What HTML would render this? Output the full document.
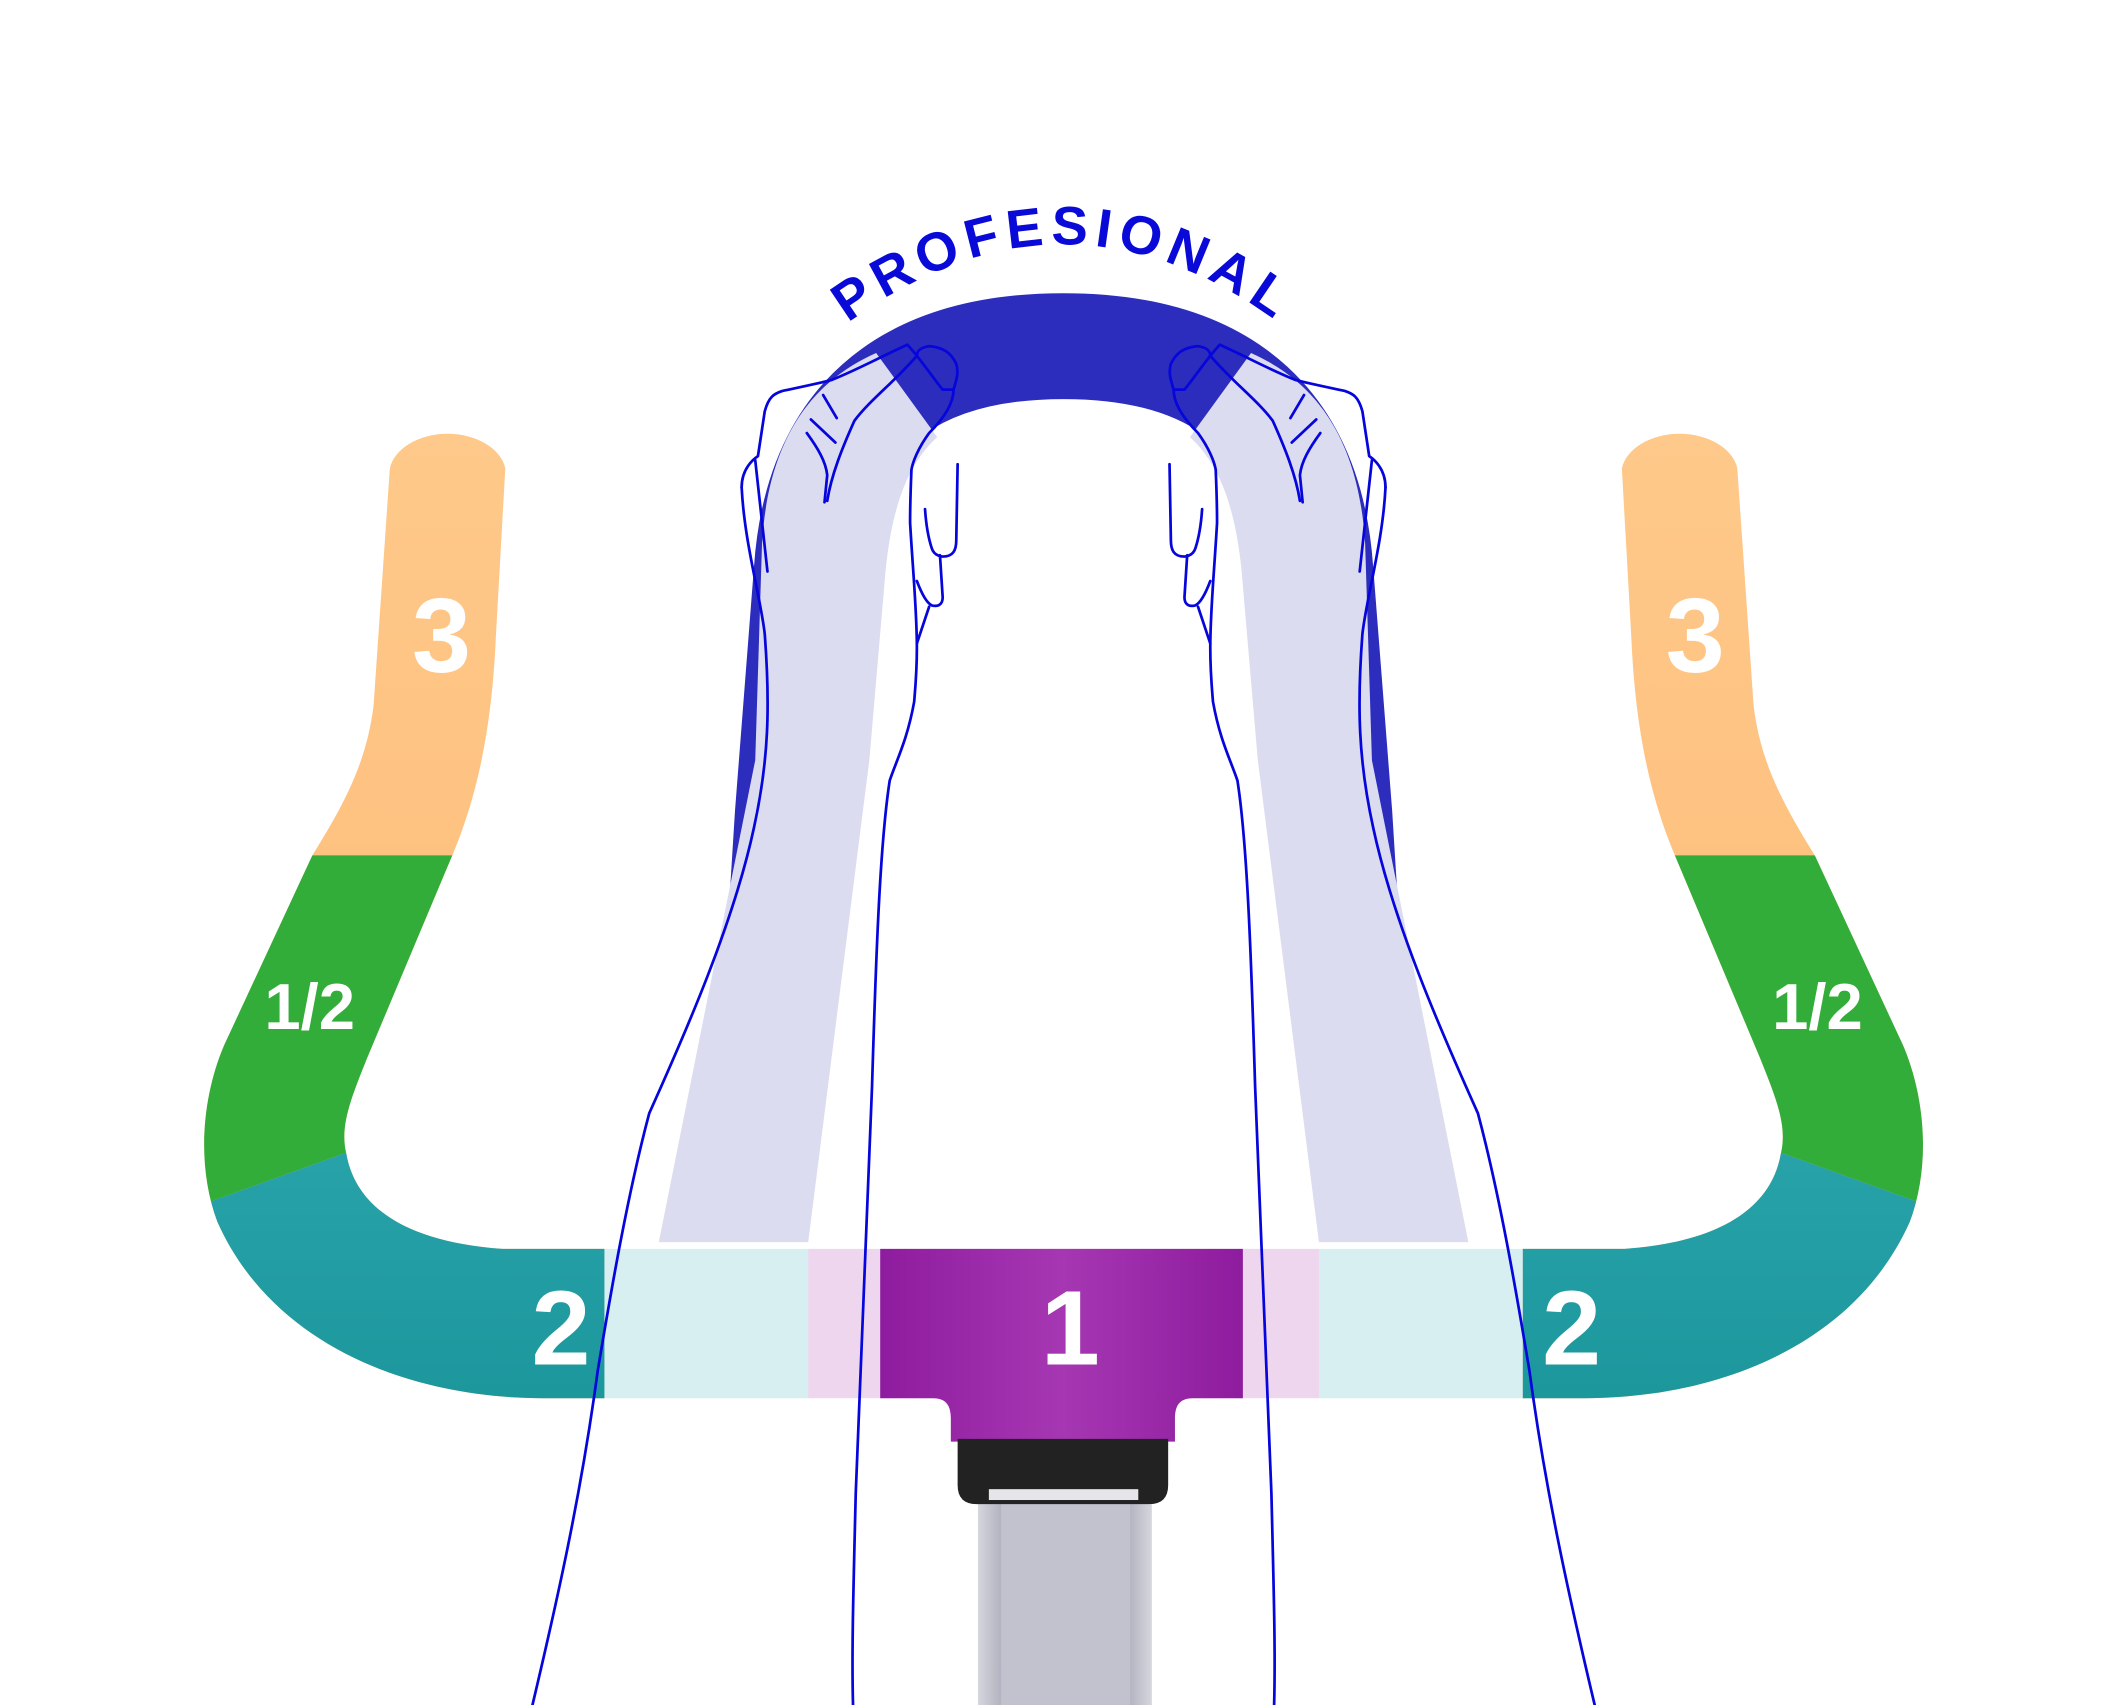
<!DOCTYPE html>
<html><head><meta charset="utf-8"><style>
html,body{margin:0;padding:0;background:#fff;}
svg{display:block;}
text{font-family:"Liberation Sans",sans-serif;font-weight:bold;}
</style></head><body>
<svg width="2119" height="1705" viewBox="0 0 1560 1256" preserveAspectRatio="none" xmlns="http://www.w3.org/2000/svg">
<defs>
<linearGradient id="tg" x1="0" y1="0" x2="0" y2="1">
<stop offset="0" stop-color="#48c3d0"/><stop offset="1" stop-color="#1c979c"/></linearGradient>
<linearGradient id="og" x1="0" y1="0" x2="0" y2="1">
<stop offset="0" stop-color="#fec98a"/><stop offset="1" stop-color="#fdb874"/></linearGradient>
<linearGradient id="pg" x1="0" y1="0" x2="1" y2="0">
<stop offset="0" stop-color="#8e1c9e"/><stop offset="0.5" stop-color="#a637b2"/><stop offset="1" stop-color="#8e1c9e"/></linearGradient>
<linearGradient id="sg" x1="0" y1="0" x2="1" y2="0">
<stop offset="0" stop-color="#d6d6de"/><stop offset="0.15" stop-color="#aeaebc"/><stop offset="0.5" stop-color="#c8c8d4"/><stop offset="0.85" stop-color="#aeaebc"/><stop offset="1" stop-color="#d6d6de"/></linearGradient>
<clipPath id="cg"><polygon points="100,630 500,630 500,848 258,848 100,905"/></clipPath>
<clipPath id="ct"><polygon points="100,905 258,848 500,848 500,1100 100,1100"/></clipPath>
</defs>

<!-- left handlebar -->
<g>
<path d="M287 345 A43 30 0 0 1 372 345 L365 470 C362 540 350 590 333 630 L270 780 C258 810 250 830 255 850 C262 890 300 915 370 920 L445 920 L445 1030 L400 1030 C300 1030 200 990 160 900 C145 860 148 810 165 770 L230 630 C255 590 270 560 275 520 Z" fill="url(#og)"/>
<path clip-path="url(#cg)" d="M287 345 A43 30 0 0 1 372 345 L365 470 C362 540 350 590 333 630 L270 780 C258 810 250 830 255 850 C262 890 300 915 370 920 L445 920 L445 1030 L400 1030 C300 1030 200 990 160 900 C145 860 148 810 165 770 L230 630 C255 590 270 560 275 520 Z" fill="#33ad3a"/>
<path clip-path="url(#ct)" d="M287 345 A43 30 0 0 1 372 345 L365 470 C362 540 350 590 333 630 L270 780 C258 810 250 830 255 850 C262 890 300 915 370 920 L445 920 L445 1030 L400 1030 C300 1030 200 990 160 900 C145 860 148 810 165 770 L230 630 C255 590 270 560 275 520 Z" fill="url(#tg)"/>
</g>
<!-- right handlebar -->
<g transform="translate(1566,0) scale(-1,1)">
<path d="M287 345 A43 30 0 0 1 372 345 L365 470 C362 540 350 590 333 630 L270 780 C258 810 250 830 255 850 C262 890 300 915 370 920 L445 920 L445 1030 L400 1030 C300 1030 200 990 160 900 C145 860 148 810 165 770 L230 630 C255 590 270 560 275 520 Z" fill="url(#og)"/>
<path clip-path="url(#cg)" d="M287 345 A43 30 0 0 1 372 345 L365 470 C362 540 350 590 333 630 L270 780 C258 810 250 830 255 850 C262 890 300 915 370 920 L445 920 L445 1030 L400 1030 C300 1030 200 990 160 900 C145 860 148 810 165 770 L230 630 C255 590 270 560 275 520 Z" fill="#33ad3a"/>
<path clip-path="url(#ct)" d="M287 345 A43 30 0 0 1 372 345 L365 470 C362 540 350 590 333 630 L270 780 C258 810 250 830 255 850 C262 890 300 915 370 920 L445 920 L445 1030 L400 1030 C300 1030 200 990 160 900 C145 860 148 810 165 770 L230 630 C255 590 270 560 275 520 Z" fill="url(#tg)"/>
</g>

<!-- center bar -->
<rect x="445" y="920" width="151" height="110" fill="#d7eff1"/>
<rect x="970" y="920" width="151" height="110" fill="#d7eff1"/>
<rect x="595" y="920" width="376" height="110" fill="#eed6ef"/>
<path d="M648 920 L915 920 L915 1030 L878 1030 C868 1030 865 1036 865 1045 L865 1062 L700 1062 L700 1045 C700 1036 697 1030 687 1030 L648 1030 Z" fill="url(#pg)"/>
<!-- stem -->
<rect x="720" y="1100" width="128" height="160" fill="url(#sg)"/>
<rect x="737" y="1108" width="95" height="150" fill="#c2c2ce"/>
<path d="M705 1060 L860 1060 L860 1094 Q860 1108 846 1108 L719 1108 Q705 1108 705 1094 Z" fill="#222"/>
<rect x="728" y="1097" width="110" height="8" fill="#e6e6ea"/>

<!-- blue arch -->
<path d="M570 760 L580 600 L594 420 C603 290 690 255 783 255 C876 255 963 290 972 420 L986 600 L996 760" fill="none" stroke="#2c2cbd" stroke-width="78"/>
<!-- lavender legs -->
<path d="M645 260 C600 280 566 320 561 400 L556 560 L485 915 L595 915 L640 560 L652 420 C657 370 670 340 690 322 Z" fill="#dcdcf1"/>
<path transform="translate(1566,0) scale(-1,1)" d="M645 260 C600 280 566 320 561 400 L556 560 L485 915 L595 915 L640 560 L652 420 C657 370 670 340 690 322 Z" fill="#dcdcf1"/>

<!-- hands / arms outlines -->
<g id="hl" fill="none" stroke="#0505dc" stroke-width="2" stroke-linecap="round" stroke-linejoin="round">
<path d="M546 359 C546 345 555 338 558 336 L563 303 C566 292 570 290 576 288 C590 285 600 283 612 280 C630 273 650 262 668 254"/>
<path d="M546 359 C548 400 560 440 563 467 C567 520 566 560 555 610 C540 680 505 760 478 820 C462 880 450 950 440 1010 C428 1100 410 1180 392 1256"/>
<path d="M556 339 L565 421"/>
<path d="M668 254 C676 262 688 280 694 287 L702 287 C704 280 706 275 704 268 C700 260 695 256 684 255 C678 256 675 258 675 262"/>
<path d="M675 262 C660 280 640 295 629 310 C620 330 612 350 609 369"/>
<path d="M594 319 C602 330 608 340 609 350 L607 370"/>
<path d="M597 309 L615 326"/>
<path d="M606 291 L616 308"/>
<path d="M702 287 C702 295 698 305 684 319 C676 330 672 340 671 346 C670 370 670 385 670 385 C672 420 675 450 675 477 C675 495 674 505 673 517 C668 545 660 560 655 575 C648 620 645 700 642 800 C638 900 634 1000 630 1100 C628 1180 627 1220 628 1256"/>
<path d="M681 375 C682 390 684 398 686 404 C688 410 694 410 694 410 C702 410 704 405 704 398 L705 342"/>
<path d="M675 428 C678 436 682 444 686 446 C690 447 694 446 694 440 L692 409"/>
<path d="M675 474 L684 447"/>
</g>
<use href="#hl" transform="translate(1566,0) scale(-1,1)"/>

<!-- title -->
<path id="arc" d="M615 245 Q783 115 951 245" fill="none"/>
<text font-size="40" fill="#0909d8" letter-spacing="5"><textPath href="#arc" startOffset="50%" text-anchor="middle">PROFESIONAL</textPath></text>

<!-- labels -->
<g fill="#fff" text-anchor="middle">
<text x="325" y="495" font-size="78">3</text>
<text x="1248" y="495" font-size="78">3</text>
<text x="228" y="758" font-size="48">1/2</text>
<text x="1338" y="758" font-size="48">1/2</text>
<text x="413" y="1005" font-size="78">2</text>
<text x="1157" y="1005" font-size="78">2</text>
<text x="788" y="1005" font-size="78">1</text>
</g>
</svg>
</body></html>
